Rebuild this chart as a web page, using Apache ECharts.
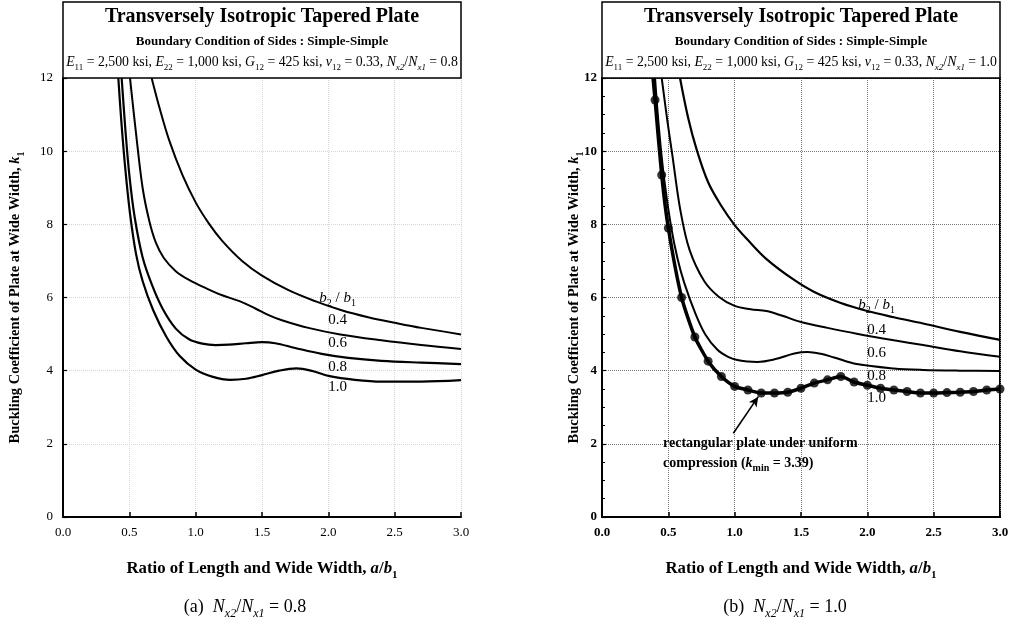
<!DOCTYPE html>
<html><head><meta charset="utf-8">
<script src="https://cdn.jsdelivr.net/npm/echarts@6/dist/echarts.min.js"></script>
<style>html,body{margin:0;padding:0;background:#fff}#c{width:1013px;height:630px}</style>
</head><body><div id="c"></div>
<script>
// ---------------- data ----------------
const xTickLabels = ['0.0', '0.5', '1.0', '1.5', '2.0', '2.5', '3.0'];
const yTickLabels = ['0', '2', '4', '6', '8', '10', '12'];
const ratioLabels = ['0.4', '0.6', '0.8', '1.0'];

// Panel (a): Nx2/Nx1 = 0.8   [a/b1, k1]
const a_r04 = [[0.668,12],[0.73,11.15],[0.8,10.3],[0.9,9.35],[1.0,8.6],[1.1,8.02],[1.2,7.55],[1.35,7.0],[1.5,6.6],[1.7,6.2],[1.9,5.9],[2.1,5.65],[2.3,5.46],[2.5,5.31],[2.7,5.17],[3.0,4.99]];
const a_r06 = [[0.505,12],[0.55,10.5],[0.6,9.0],[0.65,8.1],[0.7,7.5],[0.76,7.08],[0.85,6.72],[0.95,6.48],[1.08,6.25],[1.2,6.06],[1.33,5.9],[1.45,5.7],[1.55,5.52],[1.65,5.38],[1.85,5.17],[2.09,4.99],[2.4,4.83],[2.7,4.70],[3.0,4.59]];
const a_r08 = [[0.442,12],[0.47,10.6],[0.5,9.35],[0.54,8.2],[0.6,7.1],[0.67,6.35],[0.75,5.7],[0.85,5.15],[0.95,4.86],[1.05,4.74],[1.15,4.70],[1.25,4.71],[1.38,4.75],[1.5,4.78],[1.6,4.75],[1.75,4.62],[1.95,4.46],[2.15,4.35],[2.4,4.27],[2.7,4.22],[3.0,4.18]];
const a_r10 = [[0.417,12],[0.44,10.8],[0.47,9.5],[0.505,8.3],[0.55,7.2],[0.6,6.45],[0.68,5.65],[0.78,4.92],[0.88,4.4],[1.0,4.03],[1.13,3.83],[1.26,3.75],[1.38,3.78],[1.5,3.88],[1.63,4.0],[1.76,4.06],[1.88,3.99],[2.01,3.85],[2.2,3.75],[2.4,3.70],[2.7,3.70],[3.0,3.74]];

// Panel (b): Nx2/Nx1 = 1.0
const b_r04 = [[0.588,12],[0.65,10.9],[0.713,10.05],[0.8,9.15],[0.9,8.5],[1.0,7.98],[1.1,7.57],[1.24,7.05],[1.44,6.5],[1.6,6.15],[1.8,5.85],[2.0,5.63],[2.2,5.46],[2.42,5.29],[2.7,5.06],[3.0,4.84]];
const b_r06 = [[0.45,12],[0.49,10.9],[0.53,9.9],[0.59,8.4],[0.66,7.3],[0.77,6.45],[0.88,6.02],[1.0,5.77],[1.12,5.68],[1.24,5.63],[1.36,5.5],[1.5,5.33],[1.7,5.17],[1.92,5.01],[2.2,4.83],[2.42,4.70],[2.7,4.53],[3.0,4.38]];
const b_r08 = [[0.40,12],[0.43,10.6],[0.47,9.2],[0.52,7.95],[0.57,7.05],[0.62,6.4],[0.7,5.6],[0.78,4.98],[0.87,4.57],[0.95,4.38],[1.02,4.29],[1.1,4.25],[1.17,4.24],[1.3,4.31],[1.45,4.47],[1.55,4.51],[1.65,4.46],[1.75,4.36],[1.92,4.18],[2.2,4.06],[2.42,4.02],[2.7,4.0],[3.0,3.99]];
const b_r10_top = [[0.385,12]];
// rectangular plate under uniform compression (markers)
const rectA = [0.4,0.45,0.5,0.6,0.7,0.8,0.9,1.0,1.1,1.2,1.3,1.4,1.5,1.6,1.7,1.8,1.9,2.0,2.1,2.2,2.3,2.4,2.5,2.6,2.7,2.8,2.9,3.0];
const rectK = [11.4,9.35,7.9,6.0,4.92,4.26,3.84,3.57,3.47,3.39,3.39,3.41,3.52,3.66,3.75,3.84,3.69,3.6,3.52,3.47,3.43,3.39,3.39,3.4,3.41,3.43,3.47,3.5];

// label anchor values (data coords)
const labelA = 2.07;
const a_labelK = [5.99, 5.39, 4.76, 4.10, 3.55];
const b_labelK = [5.80, 5.11, 4.48, 3.85, 3.25];
const noteAnchor = [0.46, 1.75];
const arrowFrom = [0.99, 2.29];
const arrowTo = [1.178, 3.29];

// ---------------- chart ----------------
const serif = "'Liberation Serif','Times New Roman',serif";
function rich(size, weight) {
  const base = {fontFamily: serif, fontSize: size, fontWeight: weight, color: '#000', fill: '#000', lineHeight: Math.round(size * 1.45)};
  const sz = Math.round(size * 0.68);
  return {
    n: Object.assign({}, base),
    i: Object.assign({}, base, {fontStyle: 'italic'}),
    s: Object.assign({}, base, {fontSize: sz, lineHeight: sz, verticalAlign: 'bottom'}),
    si: Object.assign({}, base, {fontSize: sz, lineHeight: sz, verticalAlign: 'bottom', fontStyle: 'italic'})
  };
}

const chart = echarts.init(document.getElementById('c'), null, {renderer: 'canvas'});
const G = [
  {left: 63, top: 78, width: 398, height: 439},
  {left: 602, top: 78, width: 398, height: 439}
];

function xAxis(i, bold) {
  return {
    type: 'value', gridIndex: i, min: 0, max: 3, interval: 0.5,
    name: '{n|Ratio of Length and Wide Width, }{i|a}{n|/}{i|b}{s|1}',
    nameLocation: 'middle', nameGap: 40,
    nameTextStyle: {rich: rich(16.8, 'bold')},
    axisLine: {show: true, lineStyle: {color: '#000', width: 2}},
    axisTick: {show: true, inside: true, length: 5, lineStyle: {color: '#000', width: 1.5}},
    axisLabel: {color: '#000', fontFamily: serif, fontSize: 13, fontWeight: bold ? 'bold' : 'normal', margin: 9,
      formatter: v => xTickLabels[Math.round(v / 0.5)]},
    splitLine: {show: true, lineStyle: {color: i ? '#777' : '#d6d6d6', type: 'dotted', width: 1}}
  };
}
function yAxis(i, bold, gap) {
  return {
    type: 'value', gridIndex: i, min: 0, max: 12, interval: 2,
    name: '{n|Buckling Coefficient of Plate at Wide Width, }{i|k}{s|1}',
    nameLocation: 'middle', nameGap: gap, nameRotate: 90, nameMoveOverlap: false,
    nameTextStyle: {rich: rich(14.5, 'bold')},
    axisLine: {show: true, lineStyle: {color: '#000', width: 2}},
    axisTick: {show: true, inside: true, length: 4, lineStyle: {color: '#000', width: 1.2}},
    minorTick: {show: i === 1, splitNumber: 4, length: 3, lineStyle: {color: '#000', width: 1}},
    axisLabel: {color: '#000', fontFamily: serif, fontSize: 13, fontWeight: bold ? 'bold' : 'normal', margin: i ? 5 : 10,
      formatter: v => yTickLabels[Math.round(v / 2)]},
    splitLine: {show: true, lineStyle: {color: i ? '#777' : '#d6d6d6', type: 'dotted', width: 1}}
  };
}

function curve(data, gi, w) {
  return {type: 'line', xAxisIndex: gi, yAxisIndex: gi, data: data, symbol: 'none', showSymbol: false,
    smooth: 0.35, clip: true, silent: true, z: 3,
    lineStyle: {color: '#000', width: w}};
}
function textPoints(gi, data, labelOpt) {
  return {type: 'scatter', xAxisIndex: gi, yAxisIndex: gi, silent: true, z: 6,
    symbol: 'circle', symbolSize: 0, itemStyle: {color: '#000'},
    data: data, label: Object.assign({show: true, color: '#000', textBorderWidth: 0, opacity: 1}, labelOpt)};
}
function labels(gi, ks) {
  const texts = ['{i|b}{s|2}{n| / }{i|b}{s|1}'].concat(ratioLabels.map(t => '{n|' + t + '}'));
  return textPoints(gi, ks.map((k, j) => ({value: [labelA, k], label: {formatter: texts[j]}})),
    {position: 'inside', rich: rich(15, 'normal')});
}

const series = [
  curve(a_r04, 0, 2), curve(a_r06, 0, 2), curve(a_r08, 0, 2.2), curve(a_r10, 0, 2.2),
  curve(b_r04, 1, 2.2), curve(b_r06, 1, 2), curve(b_r08, 1, 2),
  Object.assign(curve(b_r10_top.concat(rectA.map((a, j) => [a, rectK[j]])), 1, 3.5), {smooth: 0.2}),
  {type: 'scatter', xAxisIndex: 1, yAxisIndex: 1, silent: true, z: 5, symbol: 'circle', symbolSize: 9,
    itemStyle: {color: '#000'}, data: rectA.map((a, j) => [a, rectK[j]])},
  labels(0, a_labelK), labels(1, b_labelK),
  Object.assign(textPoints(1, [{value: noteAnchor}], {position: 'right', distance: 0, align: 'left',
      formatter: '{n|rectangular plate under uniform}\n{n|compression (}{i|k}{s|min}{n| = 3.39)}',
      rich: rich(14, 'bold')}), {
    markLine: {silent: true, symbol: ['none', 'arrow'], symbolSize: [7, 10],
      lineStyle: {color: '#000', width: 1.6, type: 'solid'}, label: {show: false},
      data: [[{coord: arrowFrom}, {coord: arrowTo}]]}})
];

function header(x0, ratio) {
  const cx = x0 + 199;
  const ta = {align: 'center', verticalAlign: 'middle', textAlign: 'center', textVerticalAlign: 'middle'};
  return [
    {type: 'rect', shape: {x: x0, y: 2, width: 398, height: 76}, style: {fill: '#fff', stroke: '#000', lineWidth: 1.5}, z: 10},
    {type: 'text', x: cx, y: 17, z: 11, style: Object.assign({text: '{n|Transversely Isotropic Tapered Plate}', rich: rich(20, 'bold')}, ta)},
    {type: 'text', x: cx, y: 42, z: 11, style: Object.assign({text: '{n|Boundary Condition of Sides : Simple-Simple}', rich: rich(13, 'bold')}, ta)},
    {type: 'text', x: cx, y: 62, z: 11, style: Object.assign({
      text: '{i|E}{s|11}{n| = 2,500 ksi, }{i|E}{s|22}{n| = 1,000 ksi, }{i|G}{s|12}{n| = 425 ksi, }{i|ν}{s|12}{n| = 0.33, }{i|N}{si|x2}{n|/}{i|N}{si|x1}{n| = ' + ratio + '}',
      rich: rich(13.8, 'normal')}, ta)}
  ];
}
function caption(cx, tag, ratio) {
  return {type: 'text', x: cx, y: 607, z: 11, style: {
    text: '{n|(' + tag + ')  }{i|N}{si|x2}{n|/}{i|N}{si|x1}{n| = ' + ratio + '}',
    rich: rich(18, 'normal'), align: 'center', verticalAlign: 'middle', textAlign: 'center', textVerticalAlign: 'middle'}};
}

chart.setOption({
  backgroundColor: '#fff',
  animation: false,
  grid: [
    Object.assign({show: false}, G[0]),
    Object.assign({show: true, borderColor: '#000', borderWidth: 2, backgroundColor: 'transparent'}, G[1])
  ],
  xAxis: [xAxis(0, false), xAxis(1, true)],
  yAxis: [yAxis(0, false, 37), yAxis(1, true, 17)],
  series: series,
  graphic: header(63, '0.8').concat(header(602, '1.0')).concat([
    caption(245, 'a', '0.8'), caption(785, 'b', '1.0')
  ])
});
</script>
</body></html>
